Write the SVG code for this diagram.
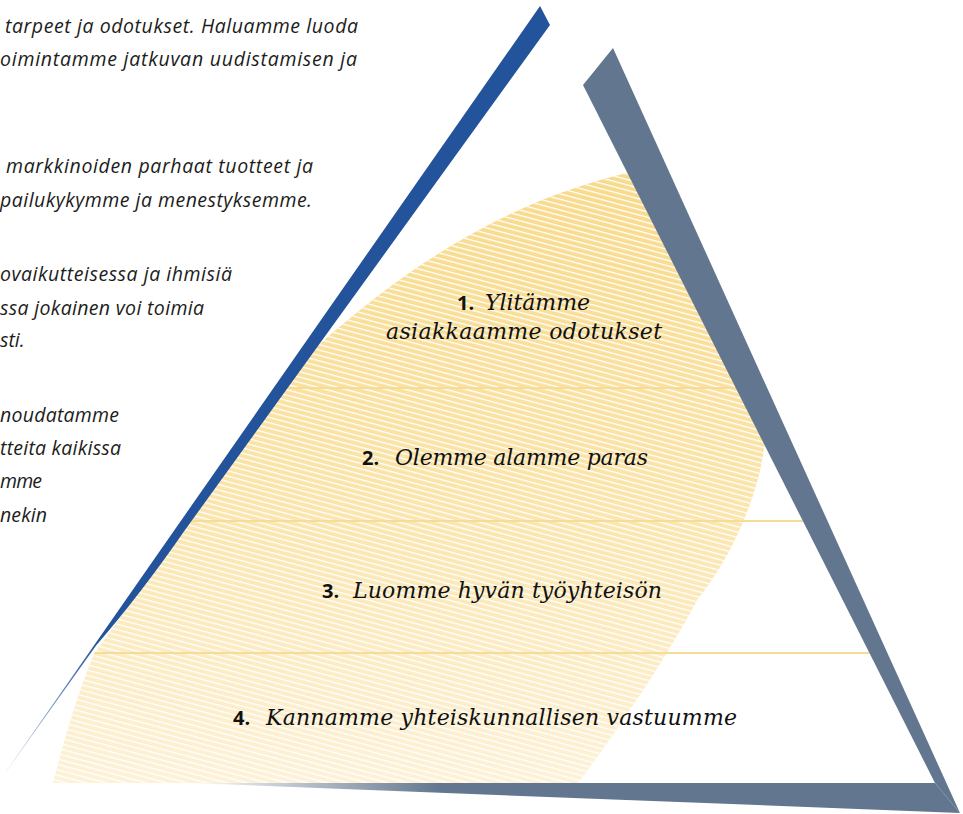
<svg xmlns="http://www.w3.org/2000/svg" width="963" height="814" viewBox="0 0 963 814">
<style>
.side{font-family:"Open Sans","Liberation Sans",sans-serif;font-style:italic;font-size:19.5px;fill:#1d1d1b;}
.num{font-family:"Open Sans","Liberation Sans",sans-serif;font-weight:700;font-size:20px;fill:#111;}
.lvl{font-family:"DejaVu Serif","Liberation Serif",serif;font-style:italic;font-size:22px;fill:#111;}
.div{stroke:#f6dc96;stroke-width:2;fill:none;}
</style>
<defs>
<linearGradient id="yel" gradientUnits="userSpaceOnUse" x1="0" y1="170" x2="0" y2="790">
<stop offset="0" stop-color="#f8da8b"/>
<stop offset="0.5" stop-color="#fbe4a9"/>
<stop offset="1" stop-color="#fdf2d9"/>
</linearGradient>
<pattern id="hatch" patternUnits="userSpaceOnUse" width="12" height="5.2" patternTransform="rotate(15)">
<rect x="0" y="0" width="12" height="1.3" fill="#ffffff"/>
</pattern>
<linearGradient id="blueFade" gradientUnits="userSpaceOnUse" x1="100" y1="640" x2="5" y2="775">
<stop offset="0" stop-color="#23539b"/>
<stop offset="1" stop-color="#d4dcec"/>
</linearGradient>
<linearGradient id="grayFade" gradientUnits="userSpaceOnUse" x1="185" y1="0" x2="440" y2="0">
<stop offset="0" stop-color="#ffffff"/>
<stop offset="1" stop-color="#62778f"/>
</linearGradient>
<clipPath id="inside">
<polygon points="552,23 935,783 0,783"/>
</clipPath>
</defs>

<g id="side-text">
<text class="side" x="5" y="33" textLength="353">tarpeet ja odotukset. Haluamme luoda</text>
<text class="side" x="0" y="66" textLength="357">oimintamme jatkuvan uudistamisen ja</text>
<text class="side" x="6" y="173" textLength="307">markkinoiden parhaat tuotteet ja</text>
<text class="side" x="0" y="207" textLength="312">pailukykymme ja menestyksemme.</text>
<text class="side" x="0" y="281" textLength="232">ovaikutteisessa ja ihmisiä</text>
<text class="side" x="0" y="315" textLength="204">ssa jokainen voi toimia</text>
<text class="side" x="0" y="347">sti.</text>
<text class="side" x="0" y="422" textLength="119">noudatamme</text>
<text class="side" x="0" y="455" textLength="121">tteita kaikissa</text>
<text class="side" x="0" y="488" textLength="42">mme</text>
<text class="side" x="0" y="522" textLength="47">nekin</text>
</g>

<g id="yellow-area" clip-path="url(#inside)">
<path id="yellow-shape" d="M40,815 L53,783 C68,725 82,680 100,640 C150,540 230,420 330,335 C400,275 500,200 640,170 C700,170 770,330 765,440 C760,495 730,560 697,600 C677,640 620,730 565,800 Z" fill="url(#yel)"/>
<path d="M40,815 L53,783 C68,725 82,680 100,640 C150,540 230,420 330,335 C400,275 500,200 640,170 C700,170 770,330 765,440 C760,495 730,560 697,600 C677,640 620,730 565,800 Z" fill="url(#hatch)"/>
</g>

<g id="dividers" clip-path="url(#inside)">
<line class="div" x1="280" y1="388" x2="740" y2="388"/>
<line class="div" x1="185" y1="521" x2="806" y2="521"/>
<line class="div" x1="92" y1="653" x2="872" y2="653"/>
</g>

<g id="blue-side">
<path d="M540,6 L550,25 L185,530 Q140,595 96.5,645 L5.6,772.5 L5,773 Z" fill="url(#blueFade)"/>
</g>

<g id="gray-side">
<polygon points="583,85 613,48 960,813 935,783" fill="#62778f"/>
<polygon points="190,783 935,783 960,813" fill="url(#grayFade)"/>
</g>

<g id="level-1">
<text class="num" x="457" y="310">1.</text>
<text class="lvl" x="485" y="310" textLength="105">Ylitämme</text>
<text class="lvl" x="386" y="339" textLength="276">asiakkaamme odotukset</text>
</g>
<g id="level-2">
<text class="num" x="362" y="465">2.</text>
<text class="lvl" x="395" y="465" textLength="253">Olemme alamme paras</text>
</g>
<g id="level-3">
<text class="num" x="322" y="598">3.</text>
<text class="lvl" x="353" y="598" textLength="309">Luomme hyvän työyhteisön</text>
</g>
<g id="level-4">
<text class="num" x="233" y="725">4.</text>
<text class="lvl" x="266" y="725" textLength="471">Kannamme yhteiskunnallisen vastuumme</text>
</g>
</svg>
